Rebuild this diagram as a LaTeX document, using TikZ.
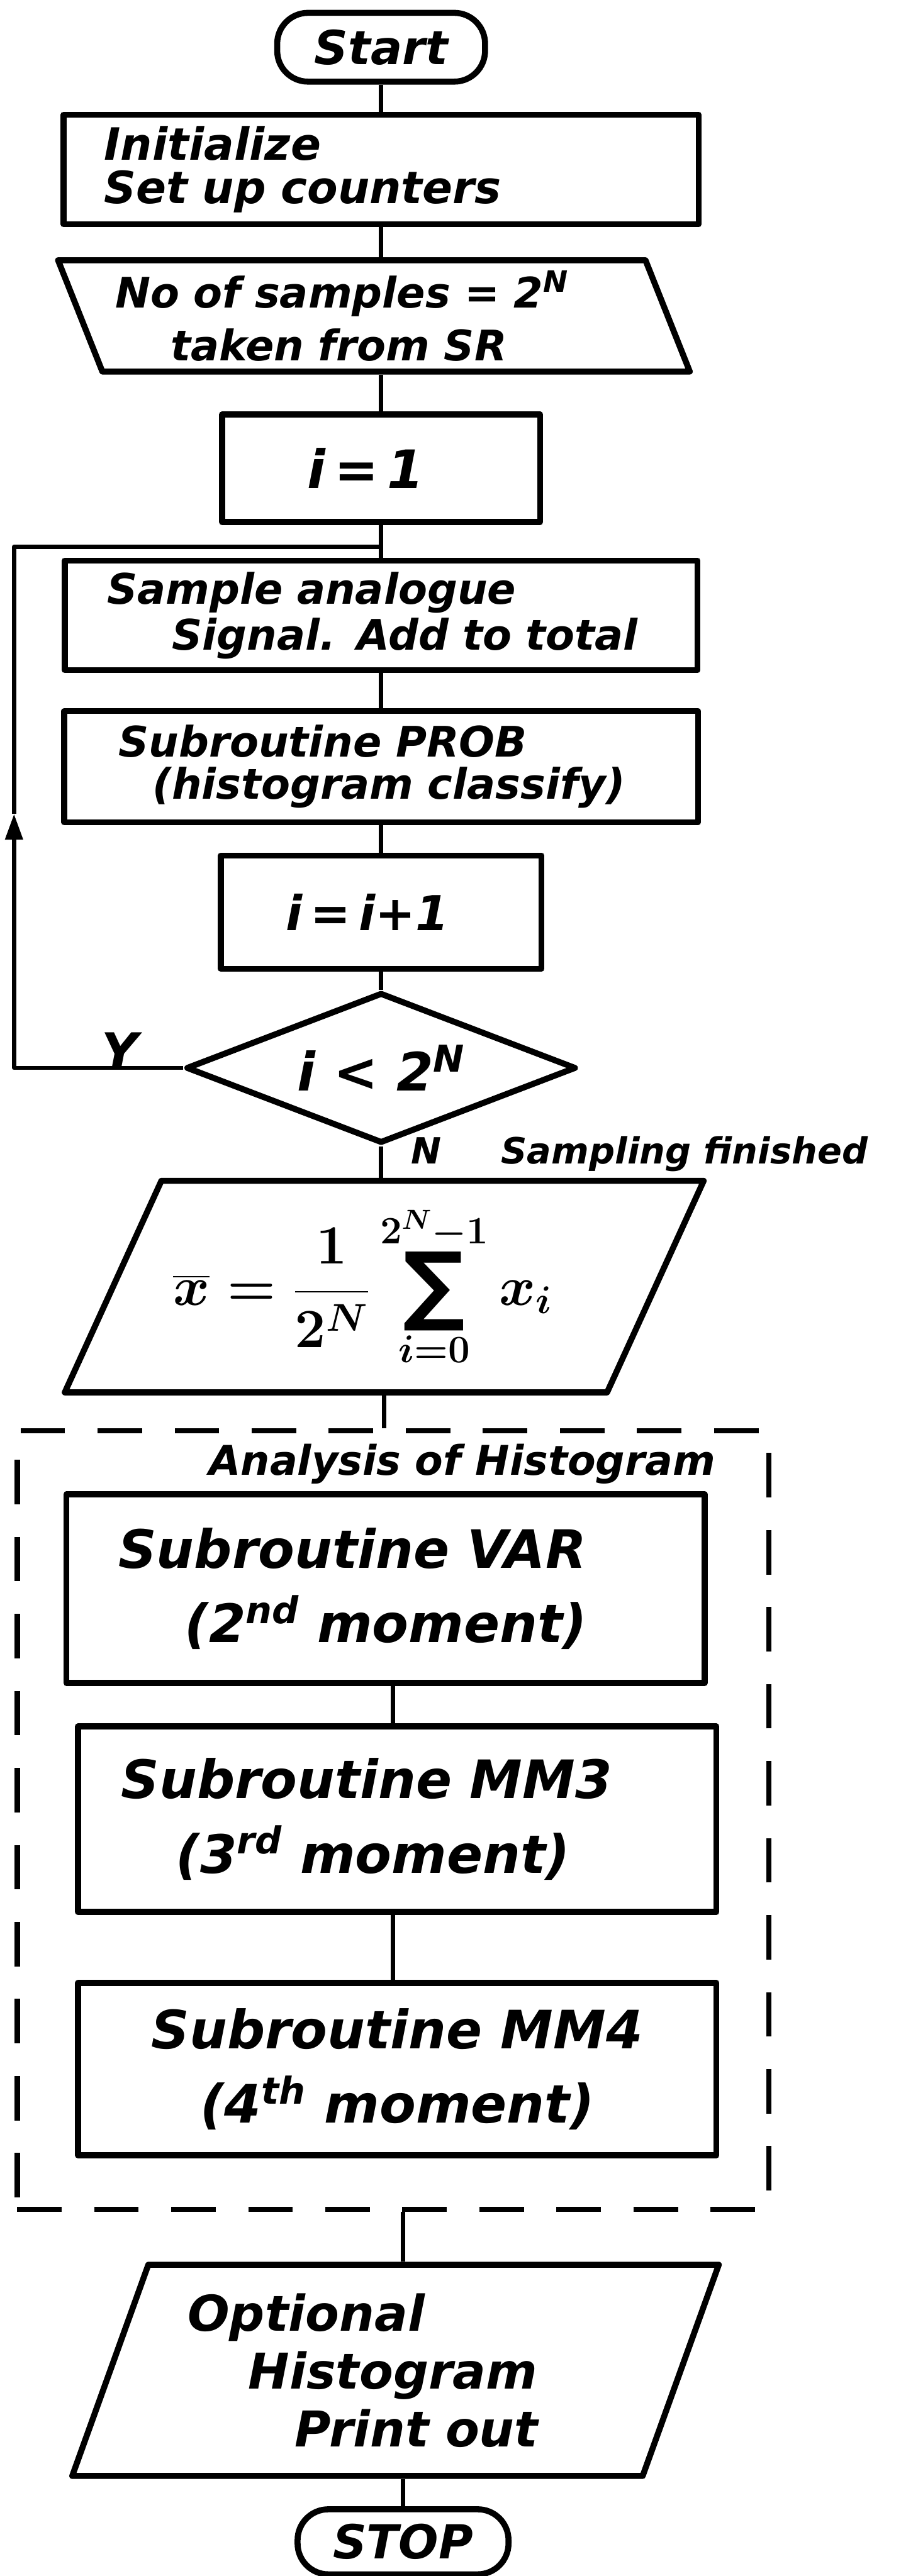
\RequirePackage{fix-cm}
\documentclass[tikz,border=0pt]{standalone}
\usepackage{amsmath}
\usepackage{fontspec}
\setmainfont{DejaVu Sans}[ItalicFont={DejaVu Sans Oblique},
  BoldItalicFont={DejaVu Sans Bold Oblique}]
\usetikzlibrary{arrows.meta,positioning,shapes.geometric,calc}

\begin{document}
\begin{tikzpicture}[
    line join=round,
    hand/.style={font=\fontsize{#1}{#1}\selectfont\bfseries\itshape},
    txa/.style={font=\fontsize{37}{36}\selectfont\bfseries\itshape},
    txb/.style={font=\fontsize{44}{62}\selectfont\bfseries\itshape},
    blk/.style={draw, line width=5pt, inner sep=0pt, txa},
    term/.style={blk, rounded corners=0.9cm},
    io/.style={blk, trapezium, trapezium stretches=true},
    cond/.style={blk, diamond, aspect=2.6},
    conn/.style={line width=3.5pt},
    arr/.style={conn, -{Triangle[length=0.75cm, width=0.5cm]}},
    frame/.style={draw, line width=4.5pt, dash pattern=on 1.3cm off 0.95cm, inner sep=0pt},
  ]
  \useasboundingbox (0,0) rectangle (26.31,-75.26);

  % sampling loop
  \node[term, minimum width=6.07cm, minimum height=2.01cm, hand=39]
    (start) at (11.13,-1.38) {Start};
  \node[blk, minimum width=18.55cm, minimum height=3.2cm, text width=16.18cm,
    align=left] (init) at (11.13,-4.95) {Initialize\\Set up counters};
  \node[io, trapezium left angle=115, trapezium right angle=65,
    minimum width=18.47cm, minimum height=3.25cm, text width=15.1cm, align=left,
    font=\fontsize{35}{44}\selectfont\bfseries\itshape] (nsamp) at (10.92,-9.23)
    {No of samples = 2\textsuperscript{N}\\\hspace*{1.61cm}taken from SR};
  \node[blk, minimum width=9.28cm, minimum height=3.14cm, hand=44]
    (ione) at (11.13,-13.68) {i\,=\,1\hspace*{0.9cm}};
  \node[blk, minimum width=18.48cm, minimum height=3.2cm, text width=16.0cm,
    align=left, font=\fontsize{35}{38}\selectfont\bfseries\itshape] (samp) at (11.13,-17.98)
    {Sample analogue\\\hspace*{1.9cm}Signal. Add to total};
  \node[blk, minimum width=18.51cm, minimum height=3.25cm, text width=15.34cm,
    align=left, font=\fontsize{35}{35}\selectfont\bfseries\itshape] (prob) at (11.13,-22.40)
    {Subroutine PROB\\\hspace*{1.0cm}(histogram classify)};
  \node[blk, minimum width=9.36cm, minimum height=3.31cm, hand=40]
    (iinc) at (11.13,-26.65) {i\,=\,i+1\hspace*{0.8cm}};
  \node[cond, minimum width=11.39cm, minimum height=4.4cm, hand=44]
    (test) at (11.13,-31.20) {i < 2\textsuperscript{N}};
  \node[hand=42] (ylab) at (3.5,-30.7) {Y};
  \node[anchor=base west, hand=30] (nlab) at (11.89,-34.0) {N};
  \node[anchor=base west, hand=30] (fin) at (14.51,-34.0) {Sampling finished};

  \coordinate (lpb) at (0.41,-31.20);
  \coordinate (lparr) at (0.41,-23.78);
  \coordinate (lpt) at (0.41,-15.97);
  \coordinate (jn) at (11.13,-15.97);

  % mean and moments
  \node[io, trapezium left angle=60, trapezium right angle=120,
    minimum width=18.72cm, minimum height=6.18cm, text width=12.32cm, align=left,
    font=\fontsize{46}{46}\selectfont\boldmath] (mean) at (11.22,-37.59)
    {\mbox{$\displaystyle\overline{x}=\frac{1}{2^N}\mathop{\vcenter{\hbox{\fontsize{72}{72}\selectfont\bfseries ∑}}}\limits_{i=0}^{2^N-1}x_i$}};
  \node[frame, minimum width=21.95cm, minimum height=22.75cm] (anal) at (11.475,-53.175) {};
  \node[anchor=base, hand=34] (analtxt) at (13.5,-43.1) {Analysis of Histogram};
  \node[blk, txb, minimum width=18.64cm, minimum height=5.51cm, text width=15.6cm,
    align=left] (var) at (11.26,-46.41)
    {Subroutine VAR\\\hspace*{1.94cm}(2\textsuperscript{nd} moment)};
  \node[blk, txb, minimum width=18.64cm, minimum height=5.42cm, text width=16.12cm,
    align=left] (mmthree) at (11.60,-53.15)
    {Subroutine MM3\\\hspace*{1.6cm}(3\textsuperscript{rd} moment)};
  \node[blk, txb, minimum width=18.64cm, minimum height=5.03cm, align=center]
    (mmfour) at (11.60,-60.45) {Subroutine MM4\\(4\textsuperscript{th} moment)};
  \node[io, trapezium left angle=67.4, trapezium right angle=112.6,
    minimum width=18.89cm, minimum height=6.17cm, text width=12.14cm, align=left,
    font=\fontsize{41}{48}\selectfont\bfseries\itshape] (hist) at (11.55,-69.25)
    {Optional\\\hspace*{1.77cm}Histogram\\\hspace*{3.12cm}Print out};
  \node[term, minimum width=6.16cm, minimum height=1.9cm, hand=39]
    (stop) at (11.77,-74.26) {STOP};

  \draw[conn] (start) -- (init);
  \draw[conn] (init.south) -- (init.south |- nsamp.north);
  \draw[conn] (ione.north |- nsamp.south) -- (ione);
  \draw[conn] (ione) -- (samp);
  \draw[conn] (samp) -- (prob);
  \draw[conn] (prob) -- (iinc);
  \draw[conn] (iinc) -- (test);
  \draw[arr] (test.west) -- (lpb) -- (lparr);
  \draw[conn] (lparr) -- (lpt) -- (jn);
  \draw[conn] (test.south) -- (test.south |- mean.north);
  \draw[conn] (mean.south) -- (mean.south |- anal.north);
  \draw[conn] (var.south -| anal) -- (anal |- mmthree.north);
  \draw[conn] (mmthree.south -| anal) -- (anal |- mmfour.north);
  \draw[conn] (stop.north |- anal.south) -- (stop.north |- hist.north);
  \draw[conn] (stop.north |- hist.south) -- (stop);
\end{tikzpicture}
\end{document}
